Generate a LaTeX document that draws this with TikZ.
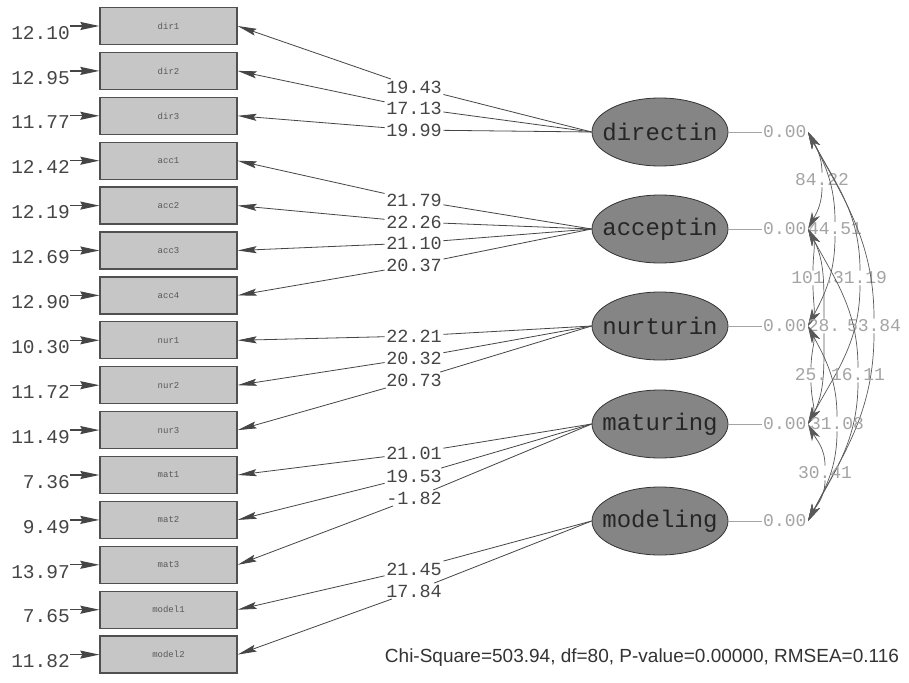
\documentclass[tikz,border=0pt]{standalone}
\usepackage{fontspec}
\setmainfont{Liberation Sans}
\newfontfamily\lmono{Liberation Mono}
\usetikzlibrary{arrows.meta,shapes.geometric}
\definecolor{boxfill}{HTML}{C6C6C6}
\definecolor{boxline}{HTML}{505050}
\definecolor{latfill}{HTML}{858585}
\definecolor{ink}{HTML}{454545}
\definecolor{pale}{HTML}{A4A4A4}
\begin{document}
\begin{tikzpicture}[x=1pt,y=-1pt,
  obs/.style={draw=boxline, line width=1.3pt, fill=boxfill, minimum width=137pt, minimum height=37pt, inner sep=0pt, font=\lmono\fontsize{9}{9}\selectfont, text=black!65},
  lat/.style={ellipse, draw=black!80, line width=0.8pt, fill=latfill, minimum width=136pt, minimum height=68pt, inner sep=0pt},
  latlab/.style={font=\lmono\fontsize{24}{24}\selectfont, text=black!85, inner sep=0pt},
  errlab/.style={anchor=north east, font=\lmono\fontsize{19.5}{19.5}\selectfont, text=ink, inner sep=0pt},
  errarr/.style={draw=ink, line width=1.3pt, -{Stealth[length=19pt,width=8pt,inset=2pt]}},
  loadlab/.style={font=\lmono\fontsize{18.5}{18.5}\selectfont, text=ink, inner sep=1.5pt},
  loadln/.style={draw=ink, line width=0.8pt},
  loadarr/.style={loadln, -{Stealth[length=19pt,width=7pt,inset=3pt]}},
  zerolab/.style={anchor=west, font=\lmono\fontsize{18}{18}\selectfont, text=pale, inner sep=1pt},
  zeroln/.style={draw=pale, line width=0.6pt},
  covlab/.style={font=\lmono\fontsize{18}{18}\selectfont, text=pale, inner sep=1pt},
  cov/.style={draw=black!65, line width=0.7pt},
  hd/.style={{Stealth[length=17pt,width=9pt,inset=5pt]}-},
  tl/.style={-{Stealth[length=17pt,width=9pt,inset=5pt]}},
]
\useasboundingbox (0,0) rectangle (909,682);
\fill[white] (0,0) rectangle (909,682);

% observed variables with error variances
\foreach \lab/\err [count=\i] in {dir1/12.10,dir2/12.95,dir3/11.77,acc1/12.42,acc2/12.19,acc3/12.69,acc4/12.90,nur1/10.30,nur2/11.72,nur3/11.49,mat1/7.36,mat2/9.49,mat3/13.97,model1/7.65,model2/11.82}{
  \pgfmathsetmacro\yy{26+44.9*(\i-1)}
  \node[obs] (b\i) at (168.5,\yy) {\lab};
  \node[errlab] (t\i) at (70,\yy) {\err};
  \draw[errarr] (t\i.north east) -- (b\i.west);
}

% latent variables
\node[lat, label={[latlab]center:directin}] (e1) at (660,132) {};
\node[lat, label={[latlab]center:acceptin}] (e2) at (660,229) {};
\node[lat, label={[latlab]center:nurturin}] (e3) at (660,326) {};
\node[lat, label={[latlab]center:maturing}] (e4) at (660,424) {};
\node[lat, label={[latlab]center:modeling}] (e5) at (660,521) {};

\foreach \i/\y in {1/132,2/229,3/326,4/424,5/521}{
  \node[zerolab] (z\i) at (762,\y) {0.00};
  \draw[zeroln] (e\i.east) -- (z\i.west);
  \coordinate (T\i) at (808,\y);
}

% loadings
\foreach \v/\y/\b/\e in {19.43/87/1/1, 17.13/108/2/1, 19.99/130/3/1, 21.79/200/4/2, 22.26/222/5/2, 21.10/243/6/2, 20.37/265/7/2, 22.21/336/8/3, 20.32/358/9/3, 20.73/380/10/3, 21.01/453/11/4, 19.53/476/12/4, -1.82/498/13/4, 21.45/569/14/5, 17.84/591/15/5}{
  \node[loadlab] (l\b) at (414,\y) {\v};
  \draw[loadln] (e\e.west) -- (l\b);
  \draw[loadarr] (l\b) -- (b\b.east);
}

% covariances among latent variables
\foreach \a/\c/\txt/\x/\y in {1/2/84.22/822/180, 1/3/44.51/835/229, 2/3/101./813/278, 1/4/31.19/860/278, 2/4/28./824/326, 1/5/53.84/874/326, 3/4/25./811/375, 2/5/16.11/858/375, 3/5/31.08/837/424, 4/5/30.41/825/473}{
  \node[covlab] (c\a\c) at (\x,\y) {\txt};
  \draw[cov,hd] (T\a) to[out=-62,in=90] (c\a\c.north);
  \draw[cov,tl] (c\a\c.south) to[out=-90,in=62] (T\c);
}

\node[font=\fontsize{19}{19}\selectfont, text=black!80, inner sep=0pt] (chi) at (642,658) {Chi-Square=503.94, df=80, P-value=0.00000, RMSEA=0.116};
\end{tikzpicture}
\end{document}
